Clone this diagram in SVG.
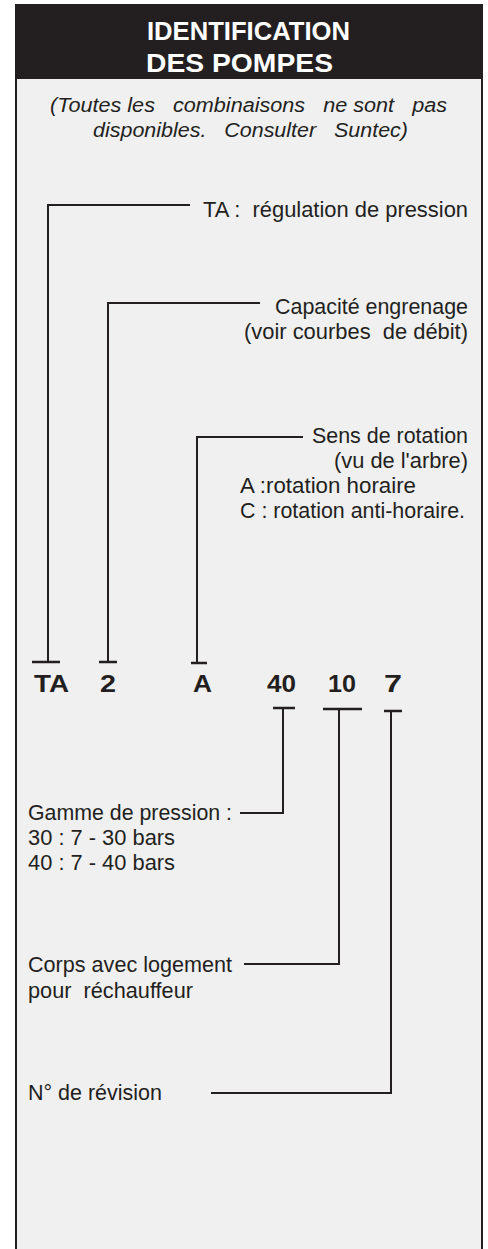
<svg xmlns="http://www.w3.org/2000/svg" width="488" height="1249" viewBox="0 0 488 1249">
<style>
.t{font-family:"Liberation Sans",Arial,sans-serif;font-size:21.5px;fill:#231f20}
.b{font-family:"Liberation Sans",Arial,sans-serif;font-size:24.5px;font-weight:bold;fill:#231f20}
.h{font-family:"Liberation Sans",Arial,sans-serif;font-size:25px;font-weight:bold;fill:#ffffff}
.i{font-family:"Liberation Sans",Arial,sans-serif;font-size:20px;font-style:italic;fill:#231f20}
.c{fill:none;stroke:#231f20;stroke-width:2}
.tee{fill:none;stroke:#231f20;stroke-width:2.5}
</style>
<rect x="0" y="0" width="488" height="1249" fill="#ffffff"/>
<g id="frame">
<rect x="16" y="5" width="466" height="1250" fill="#f0f0f0" stroke="#231f20" stroke-width="2"/>
<rect x="15" y="5" width="468" height="74" fill="#231f20"/>
</g>
<g id="header">
<text class="h" x="147" y="40" textLength="203" lengthAdjust="spacingAndGlyphs">IDENTIFICATION</text>
<text class="h" x="146" y="72" textLength="187" lengthAdjust="spacingAndGlyphs">DES POMPES</text>
</g>
<g id="note">
<text class="i" x="50" y="112" textLength="397" lengthAdjust="spacingAndGlyphs" xml:space="preserve">(Toutes les   combinaisons   ne sont   pas</text>
<text class="i" x="93" y="137" textLength="315" lengthAdjust="spacingAndGlyphs" xml:space="preserve">disponibles.   Consulter   Suntec)</text>
</g>
<g id="code">
<text class="b" x="34" y="692" textLength="35" lengthAdjust="spacingAndGlyphs">TA</text>
<text class="b" x="100" y="692" textLength="16" lengthAdjust="spacingAndGlyphs">2</text>
<text class="b" x="193" y="692" textLength="19" lengthAdjust="spacingAndGlyphs">A</text>
<text class="b" x="267" y="692" textLength="29" lengthAdjust="spacingAndGlyphs">40</text>
<text class="b" x="328" y="692" textLength="28" lengthAdjust="spacingAndGlyphs">10</text>
<text class="b" x="384" y="692" textLength="18" lengthAdjust="spacingAndGlyphs">7</text>
</g>
<g id="label-ta">
<text class="t" x="203" y="217" textLength="265" lengthAdjust="spacingAndGlyphs" xml:space="preserve">TA :  régulation de pression</text>
</g>
<g id="label-capacite">
<text class="t" x="275" y="314" textLength="193" lengthAdjust="spacingAndGlyphs">Capacité engrenage</text>
<text class="t" x="244" y="339" textLength="224" lengthAdjust="spacingAndGlyphs" xml:space="preserve">(voir courbes  de débit)</text>
</g>
<g id="label-sens">
<text class="t" x="312" y="443" textLength="156" lengthAdjust="spacingAndGlyphs">Sens de rotation</text>
<text class="t" x="334" y="468" textLength="134" lengthAdjust="spacingAndGlyphs">(vu de l'arbre)</text>
<text class="t" x="240" y="493" textLength="176" lengthAdjust="spacingAndGlyphs">A :rotation horaire</text>
<text class="t" x="240" y="518" textLength="225" lengthAdjust="spacingAndGlyphs">C : rotation anti-horaire.</text>
</g>
<g id="label-gamme">
<text class="t" x="28" y="820" textLength="204" lengthAdjust="spacingAndGlyphs">Gamme de pression :</text>
<text class="t" x="28" y="845" textLength="147" lengthAdjust="spacingAndGlyphs">30 : 7 - 30 bars</text>
<text class="t" x="28" y="870" textLength="147" lengthAdjust="spacingAndGlyphs">40 : 7 - 40 bars</text>
</g>
<g id="label-corps">
<text class="t" x="28" y="972" textLength="204" lengthAdjust="spacingAndGlyphs">Corps avec logement</text>
<text class="t" x="28" y="998" textLength="165" lengthAdjust="spacingAndGlyphs" xml:space="preserve">pour  réchauffeur</text>
</g>
<g id="label-revision">
<text class="t" x="28" y="1100" textLength="134" lengthAdjust="spacingAndGlyphs">N° de révision</text>
</g>
<g id="connectors">
<path class="c" d="M190,205 H48 V662"/>
<path class="tee" d="M32,662 H60"/>
<path class="c" d="M260,303 H108 V662"/>
<path class="tee" d="M99,662 H117"/>
<path class="c" d="M303,437 H197 V663"/>
<path class="tee" d="M191,663 H207"/>
<path class="tee" d="M273,708 H295"/>
<path class="c" d="M283,708 V813 H240"/>
<path class="tee" d="M323,709 H362"/>
<path class="c" d="M339,709 V964 H244"/>
<path class="tee" d="M384,711 H402"/>
<path class="c" d="M391,711 V1093 H211"/>
</g>
</svg>
